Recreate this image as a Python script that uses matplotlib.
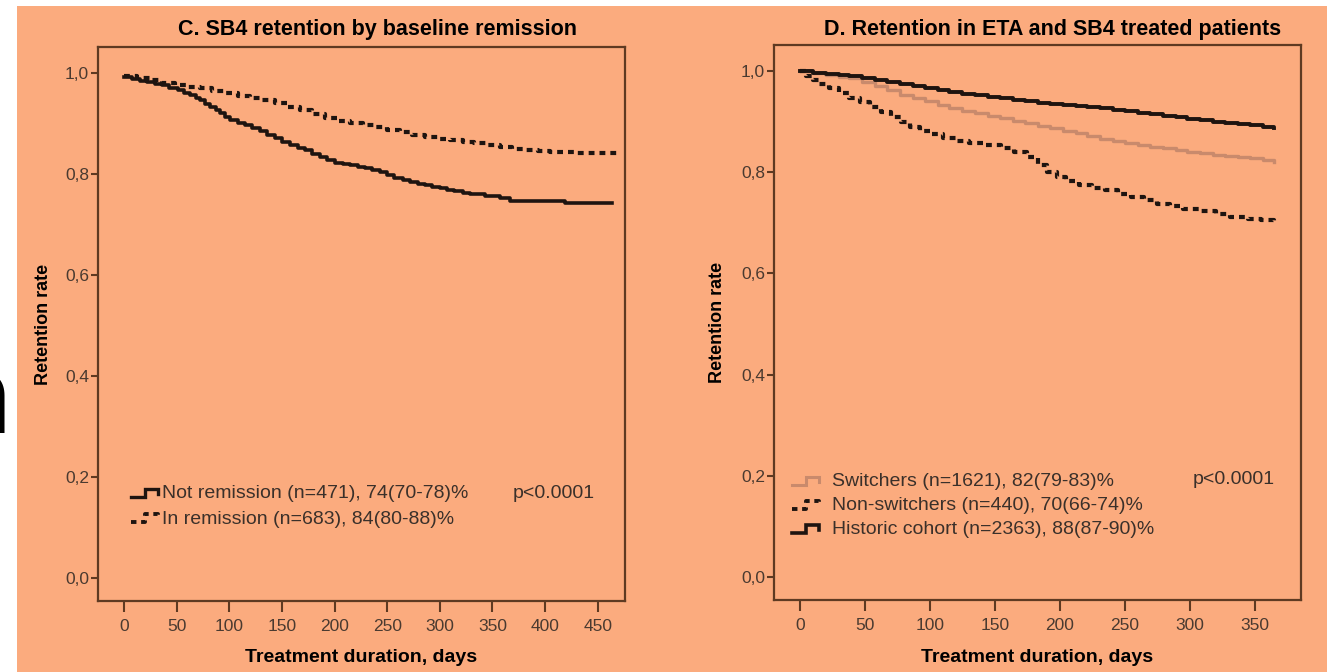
import matplotlib
matplotlib.use("Agg")
import matplotlib.pyplot as plt
from matplotlib.lines import Line2D
from matplotlib.patches import Rectangle

# ---------------- data ----------------
# Panel C: SB4 retention by baseline remission (Kaplan-Meier steps)
days_not_remission = [0, 8, 15, 22, 29, 36, 43, 51, 57, 63, 68, 72, 77, 82, 87, 91, 96,
                      101, 108, 115, 122, 129, 136, 143, 150, 158, 165, 172, 179, 186,
                      193, 200, 208, 215, 222, 229, 236, 243, 250, 257, 265, 272, 279,
                      286, 293, 300, 307, 314, 322, 329, 343, 357, 367, 419, 464]
ret_not_remission = [0.992, 0.988, 0.985, 0.982, 0.979, 0.976, 0.971, 0.966, 0.961,
                     0.956, 0.951, 0.946, 0.940, 0.933, 0.927, 0.921, 0.914, 0.907,
                     0.902, 0.897, 0.891, 0.885, 0.878, 0.871, 0.864, 0.857, 0.852,
                     0.847, 0.840, 0.834, 0.828, 0.822, 0.820, 0.818, 0.815, 0.812,
                     0.808, 0.804, 0.798, 0.792, 0.788, 0.784, 0.781, 0.778, 0.775,
                     0.772, 0.769, 0.766, 0.763, 0.760, 0.756, 0.752, 0.747, 0.743,
                     0.743]

days_in_remission = [0, 12, 25, 36, 48, 60, 72, 84, 96, 108, 120, 131, 143, 155, 167,
                     179, 191, 203, 215, 227, 238, 250, 262, 274, 286, 298, 310, 322,
                     333, 345, 357, 369, 381, 393, 405, 417, 428, 468]
ret_in_remission = [0.995, 0.990, 0.986, 0.981, 0.976, 0.973, 0.970, 0.965, 0.960,
                    0.955, 0.950, 0.946, 0.941, 0.934, 0.927, 0.919, 0.911, 0.906,
                    0.901, 0.897, 0.893, 0.888, 0.883, 0.878, 0.873, 0.870, 0.867,
                    0.864, 0.861, 0.857, 0.853, 0.850, 0.848, 0.846, 0.844, 0.843,
                    0.842, 0.842]

# Panel D: retention in ETA and SB4 treated patients
days_historic = [0, 10, 20, 30, 38, 48, 58, 67, 77, 87, 96, 106, 115, 125, 135, 145,
                 154, 164, 173, 183, 192, 202, 212, 221, 231, 241, 250, 260, 269, 279,
                 289, 298, 308, 318, 327, 337, 346, 356, 365]
ret_historic = [1.0, 0.997, 0.994, 0.992, 0.990, 0.986, 0.982, 0.978, 0.974, 0.970,
                0.966, 0.963, 0.960, 0.956, 0.953, 0.950, 0.947, 0.944, 0.941, 0.938,
                0.935, 0.933, 0.931, 0.929, 0.927, 0.924, 0.921, 0.918, 0.915, 0.912,
                0.909, 0.906, 0.903, 0.900, 0.898, 0.895, 0.893, 0.890, 0.887]

days_switchers = [0, 10, 20, 30, 38, 48, 58, 67, 77, 87, 96, 106, 115, 125, 135, 145,
                  154, 164, 173, 183, 192, 202, 212, 221, 231, 241, 250, 260, 269, 279,
                  289, 298, 308, 318, 327, 337, 346, 356, 365]
ret_switchers = [1.0, 0.996, 0.993, 0.989, 0.986, 0.978, 0.970, 0.962, 0.954, 0.947,
                 0.941, 0.934, 0.927, 0.922, 0.917, 0.912, 0.907, 0.902, 0.897, 0.892,
                 0.887, 0.882, 0.877, 0.872, 0.867, 0.863, 0.859, 0.855, 0.851, 0.848,
                 0.845, 0.841, 0.838, 0.835, 0.833, 0.830, 0.828, 0.824, 0.820]

days_non_switchers = [0, 5, 10, 15, 22, 30, 38, 46, 54, 62, 70, 78, 85, 92, 100, 110,
                      120, 130, 142, 155, 165, 175, 183, 190, 198, 205, 215, 225, 235,
                      245, 255, 265, 275, 285, 295, 308, 320, 331, 345, 355, 365]
ret_non_switchers = [1.0, 0.990, 0.982, 0.975, 0.966, 0.958, 0.948, 0.940, 0.930,
                     0.920, 0.910, 0.900, 0.890, 0.882, 0.875, 0.868, 0.863, 0.859,
                     0.855, 0.848, 0.840, 0.830, 0.815, 0.800, 0.790, 0.782, 0.776,
                     0.770, 0.765, 0.758, 0.752, 0.745, 0.738, 0.733, 0.728, 0.724,
                     0.717, 0.712, 0.708, 0.705, 0.703]

y_ticks = [0.0, 0.2, 0.4, 0.6, 0.8, 1.0]
y_tick_labels = ["0,0", "0,2", "0,4", "0,6", "0,8", "1,0"]
x_ticks_c = [0, 50, 100, 150, 200, 250, 300, 350, 400, 450]
x_ticks_d = [0, 50, 100, 150, 200, 250, 300, 350]

legend_c = ["Not remission (n=471), 74(70-78)%", "In remission (n=683), 84(80-88)%"]
legend_d = ["Switchers (n=1621), 82(79-83)%", "Non-switchers (n=440), 70(66-74)%",
            "Historic cohort (n=2363), 88(87-90)%"]

# ---------------- style ----------------
plt.rcParams["font.family"] = ["Liberation Sans", "DejaVu Sans"]

BG = "#FBAB7E"
SPINE = "#5E3A22"
TICKTXT = "#4A3A30"
TXT = "#3A302A"
INK = "#1E1410"
SWITCH = "#C98A6C"

W, H = 1327, 672
fig = plt.figure(figsize=(W / 100, H / 100), dpi=100, facecolor="white")
fig.add_artist(Rectangle((17 / W, 0), 1 - 17 / W, (H - 6) / H, transform=fig.transFigure,
                         facecolor=BG, edgecolor="none", zorder=-10))


def px(x, y):
    return x / W, 1 - y / H


# partly visible large letter at the left edge of the slide
fig.text(*px(12, 433), "n", fontsize=84, family=["Lato", "DejaVu Sans"],
         color="black", ha="right", va="baseline")


def make_axes(left, top, right, bottom):
    return fig.add_axes([left / W, 1 - bottom / H, (right - left) / W, (bottom - top) / H])


def style_axes(ax, xmin, xmax, xticks, ylabel_x):
    ax.set_facecolor("none")
    ax.set_xlim(xmin, xmax)
    ax.set_ylim(-0.046, 1.052)
    ax.set_yticks(y_ticks)
    ax.set_yticklabels(y_tick_labels)
    ax.set_xticks(xticks)
    for s in ax.spines.values():
        s.set_color(SPINE)
        s.set_linewidth(1.6)
    ax.tick_params(axis="y", direction="out", length=5, width=1.5, color=SPINE,
                   labelsize=12.5, labelcolor=TICKTXT, pad=1.5)
    ax.tick_params(axis="x", direction="out", length=8, width=1.5, color=SPINE,
                   labelsize=12.5, labelcolor=TICKTXT, pad=5)
    ax.set_ylabel("Retention rate", fontsize=13, fontweight="bold", color="black")
    ax.yaxis.label.set_va("center")
    ax.yaxis.set_label_coords(ylabel_x, 0.5)
    ax.set_xlabel("Treatment duration, days", fontsize=14, fontweight="bold", color="black")
    ax.xaxis.set_label_coords(0.5, -57 / 554)
    ax.xaxis.label.set_va("center")


def legend_glyph(x0, y0, color, ls, lw):
    # little Kaplan-Meier step icon
    xs = [x0, x0 + 14, x0 + 14, x0 + 27, x0 + 27]
    ys = [y0 + 4, y0 + 4, y0 - 4, y0 - 4, y0 + 1]
    pts = [px(a, b) for a, b in zip(xs, ys)]
    fig.add_artist(Line2D([p[0] for p in pts], [p[1] for p in pts], color=color,
                          linestyle=ls, linewidth=lw, transform=fig.transFigure,
                          solid_joinstyle="miter"))


DASH = (0, (1.4, 1.2))
LEG_FS = 14
TITLE_FS = 15.5

# ---- panel C ----
axc = make_axes(98, 47, 625, 601)
style_axes(axc, -24.7, 476, x_ticks_c, -55 / 527)
fig.text(*px(378, 35), "C. SB4 retention by baseline remission", fontsize=TITLE_FS,
         fontweight="bold", color="black", ha="center", va="baseline")
axc.step(days_not_remission, ret_not_remission, where="post", color=INK, lw=2.6)
axc.step(days_in_remission, ret_in_remission, where="post", color=INK, lw=3.0,
         linestyle=DASH)

legend_glyph(131, 493, INK, "-", 2.4)
legend_glyph(131, 518, INK, DASH, 2.8)
fig.text(*px(162, 494), legend_c[0], fontsize=LEG_FS, color=TXT, va="center", ha="left")
fig.text(*px(162, 519), legend_c[1], fontsize=LEG_FS, color=TXT, va="center", ha="left")
fig.text(*px(513, 493), "p<0.0001", fontsize=LEG_FS, color=TXT, va="center", ha="left")

# ---- panel D ----
axd = make_axes(774, 45, 1301, 600)
style_axes(axd, -20, 385.5, x_ticks_d, -56 / 527)
fig.text(*px(1053, 35), "D. Retention in ETA and SB4 treated patients", fontsize=TITLE_FS,
         fontweight="bold", color="black", ha="center", va="baseline")
axd.step(days_switchers, ret_switchers, where="post", color=SWITCH, lw=2.4)
axd.step(days_non_switchers, ret_non_switchers, where="post", color=INK, lw=3.0,
         linestyle=DASH)
axd.step(days_historic, ret_historic, where="post", color=INK, lw=2.8)

legend_glyph(792, 481, SWITCH, "-", 2.2)
legend_glyph(792, 505, INK, DASH, 2.8)
legend_glyph(792, 529, INK, "-", 2.6)
fig.text(*px(832, 482), legend_d[0], fontsize=LEG_FS, color=TXT, va="center", ha="left")
fig.text(*px(832, 505), legend_d[1], fontsize=LEG_FS, color=TXT, va="center", ha="left")
fig.text(*px(832, 529), legend_d[2], fontsize=LEG_FS, color=TXT, va="center", ha="left")
fig.text(*px(1193, 480), "p<0.0001", fontsize=LEG_FS, color=TXT, va="center", ha="left")

fig.savefig("out.png", dpi=100, facecolor="white")
